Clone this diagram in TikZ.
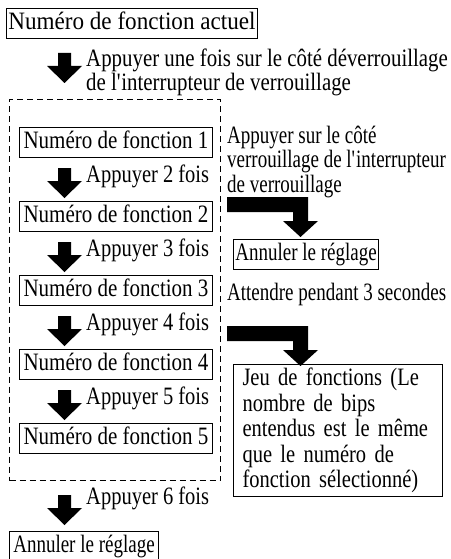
\documentclass[tikz,border=0pt]{standalone}
\usepackage{fontspec}
\setmainfont{Liberation Serif}
\newfontfamily\fsA[FakeStretch=0.76]{Liberation Serif}
\newfontfamily\fsB[FakeStretch=0.82]{Liberation Serif}
\newfontfamily\fsC[FakeStretch=0.84]{Liberation Serif}
\newfontfamily\fsD[FakeStretch=0.925]{Liberation Serif}
\newfontfamily\fsE[FakeStretch=0.835]{Liberation Serif}
\begin{document}
\begin{tikzpicture}[x=1pt,y=-1pt,
  every node/.style={font=\fontsize{25}{24.5}\selectfont, inner sep=0pt},
  box/.style={draw, line width=1pt, anchor=north west, inner xsep=0pt, inner ysep=0.5pt, text height=20.5pt, text depth=8.5pt},
  lbl/.style={anchor=base west},
  darrow/.pic={\fill (-6.5,0) -- (6.5,0) -- (6.5,13) -- (17.5,13) -- (0,30) -- (-17.5,13) -- (-6.5,13) -- cycle;}
]
\useasboundingbox (0,0) rectangle (450,559);

% top
\node[box, minimum width=251pt] (b0) at (6,8) {\fsD Numéro de fonction actuel};
\path (b0.south west) ++(58.5,14) pic {darrow};
\node[lbl] (t0a) at ([shift={(80,28)}]b0.south west) {\fsE Appuyer une fois sur le côté déverrouillage};
\node[lbl] (t0b) at ([shift={(80,51.5)}]b0.south west) {\fsE de l\textquotesingle interrupteur de verrouillage};

% dashed group
\node[draw, dash pattern=on 6pt off 4pt, line width=1pt, anchor=north west, minimum width=211pt, minimum height=381pt] (grp) at (9,99) {};

% function boxes
\foreach \i in {1,...,5}{
  \node[box, minimum width=193pt] (b\i) at (19,{127+74*(\i-1)}) {\fsC Numéro de fonction \i};
}
\foreach \i/\n in {1/2,2/3,3/4,4/5}{
  \path (b\i.south west) ++(45.5,10) pic {darrow};
  \node[lbl] (t\i) at ([shift={(67,24)}]b\i.south west) {\fsB Appuyer \n\ fois};
}

% after group
\path (grp.south west) ++(55.5,14) pic {darrow};
\node[lbl] (t6) at ([shift={(77,23)}]grp.south west) {\fsB Appuyer 6 fois};
\node[box, minimum width=149pt, text depth=6pt] (bend) at (9,531) {\fsA Annuler le réglage};

% right branch 1
\node[lbl] (r1a) at (227,143) {\fsA Appuyer sur le côté};
\node[lbl] (r1b) at (227,167.5) {\fsA verrouillage de l\textquotesingle interrupteur};
\node[lbl] (r1c) at (227,192) {\fsA de verrouillage};
\node[box, minimum width=145pt] (rc) at (233,238.5) {\fsA Annuler le réglage};
\coordinate (s1) at ([xshift=6pt]grp.east |- 0,197);
\fill (s1) -- ++(81,0) -- ++(0,24) -- ++(10,0) -- ++(-17.5,16) -- ++(-17.5,-16) -- ++(10,0) -- ++(0,-9) -- ++(-66,0) -- cycle;

% right branch 2
\node[lbl] (r2) at (227,300) {\fsA Attendre pendant 3 secondes};
\node[draw, line width=1pt, anchor=north west, minimum width=209pt, minimum height=132pt,
      text width=191pt, align=left, inner xsep=9pt,
      font=\fontsize{25}{25.5}\selectfont\fsB] (jeu) at (233,364)
  {Jeu de fonctions (Le\\nombre de bips\\entendus est le même\\que le numéro de\\fonction sélectionné)};
\coordinate (s2) at ([xshift=6pt]grp.east |- 0,326);
\fill (s2) -- ++(81,0) -- ++(0,24) -- ++(10,0) -- ++(-17.5,16) -- ++(-17.5,-16) -- ++(10,0) -- ++(0,-9) -- ++(-66,0) -- cycle;
\end{tikzpicture}
\end{document}
